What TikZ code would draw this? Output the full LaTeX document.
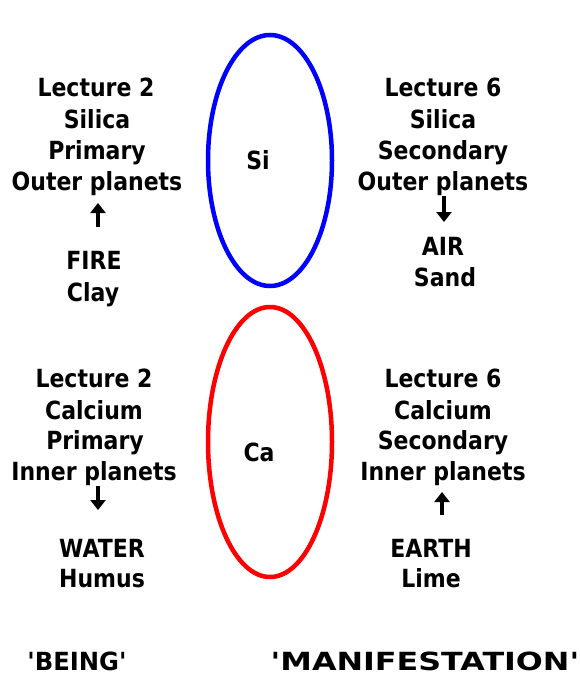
\documentclass[tikz,border=0pt]{standalone}
\usepackage{fontspec}
\usepackage{graphicx}
\usetikzlibrary{arrows.meta}
\newfontfamily\dvfont{DejaVu Sans}[FakeStretch=0.88]
\newfontfamily\capfont{DejaVu Sans}
\begin{document}
\begin{tikzpicture}[x=1pt,y=-1pt,
  lbl/.style={font=\dvfont\bfseries\fontsize{25}{29}\selectfont, anchor=base, inner sep=0pt},
  bottomlbl/.style={font=\capfont\bfseries\fontsize{25}{29}\selectfont, anchor=base, inner sep=0pt},
  ring/.style={line width=4.5pt},
  bigarrow/.style={line width=4pt, -{Triangle[width=15pt,length=10pt]}}]
\useasboundingbox (0,0) rectangle (579,675);
% ellipses
\draw[ring, blue] (270,160.5) ellipse [x radius=62, y radius=125.5];
\draw[ring, red] (270,442) ellipse [x radius=62, y radius=135];
\node[lbl] (si) at (258,169) {Si};
\node[lbl] (ca) at (259,461) {Ca};
% top left
\node[lbl] (tl1) at (96,96) {Lecture 2};
\node[lbl] (tl2) at (97,128) {Silica};
\node[lbl] (tl3) at (97,159) {Primary};
\node[lbl] (tl4) at (97,190) {Outer planets};
\node[lbl] (tl5) at (94,269) {FIRE};
\node[lbl] (tl6) at (93,301) {Clay};
% top right
\node[lbl] (tr1) at (443,96) {Lecture 6};
\node[lbl] (tr2) at (443,128) {Silica};
\node[lbl] (tr3) at (443,159) {Secondary};
\node[lbl] (tr4) at (443,190) {Outer planets};
\node[lbl] (tr5) at (443,255) {AIR};
\node[lbl] (tr6) at (445,286) {Sand};
% bottom left
\node[lbl] (bl1) at (94,387) {Lecture 2};
\node[lbl] (bl2) at (94,419) {Calcium};
\node[lbl] (bl3) at (95,449) {Primary};
\node[lbl] (bl4) at (94,480) {Inner planets};
\node[lbl] (bl5) at (102,557) {WATER};
\node[lbl] (bl6) at (102,587) {Humus};
% bottom right
\node[lbl] (br1) at (443,387) {Lecture 6};
\node[lbl] (br2) at (443,419) {Calcium};
\node[lbl] (br3) at (443,449) {Secondary};
\node[lbl] (br4) at (443,480) {Inner planets};
\node[lbl] (br5) at (431,557) {EARTH};
\node[lbl] (br6) at (431,587) {Lime};
% arrows
\coordinate (a1s) at (98,227); \coordinate (a1e) at (98,203);
\coordinate (a2s) at (444,196); \coordinate (a2e) at (444,222);
\coordinate (a3s) at (98,486); \coordinate (a3e) at (98,510);
\coordinate (a4s) at (442,515); \coordinate (a4e) at (442,492);
\draw[bigarrow] (a1s) -- (a1e);
\draw[bigarrow] (a2s) -- (a2e);
\draw[bigarrow] (a3s) -- (a3e);
\draw[bigarrow] (a4s) -- (a4e);
% bottom captions
\node[bottomlbl] (being) at (77,670) {\scalebox{0.97}[1]{'BEING'}};
\node[bottomlbl] (manif) at (425,670) {\scalebox{1.27}[1]{'MANIFESTATION'}};
\end{tikzpicture}
\end{document}
